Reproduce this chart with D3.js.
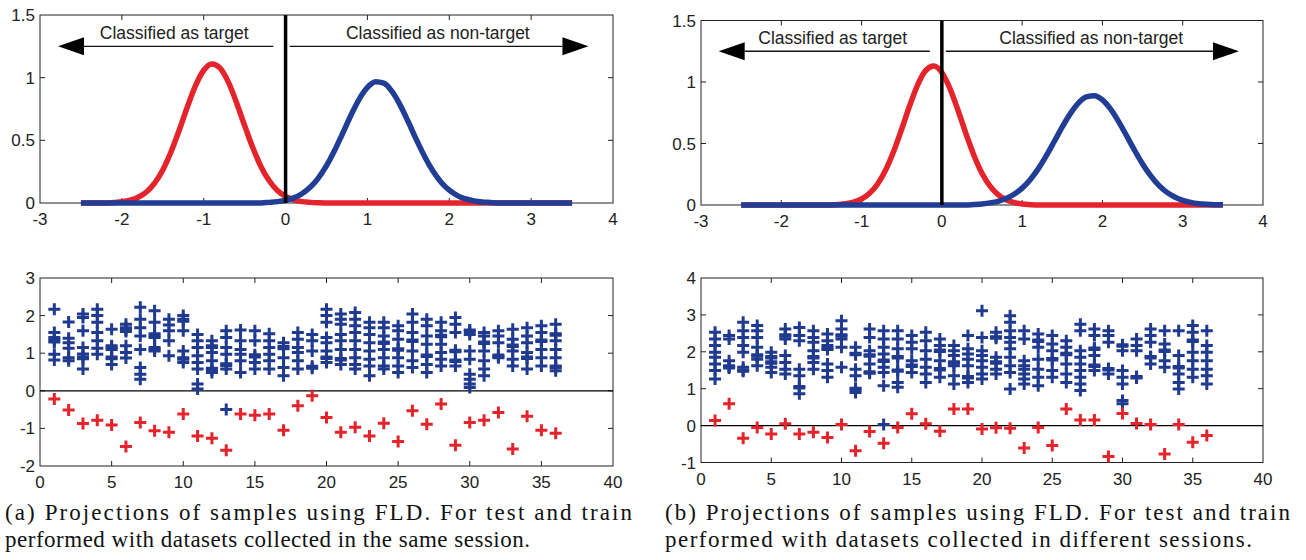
<!DOCTYPE html>
<html><head><meta charset="utf-8">
<script src="https://cdn.jsdelivr.net/npm/d3@7"></script>
<style>body{margin:0;background:#fff}svg{display:block}</style>
</head><body><svg id="c" width="1306" height="560"></svg>
<script>
// ---------- data ----------
const densityXTicks = [-3,-2,-1,0,1,2,3,4];
const densityYTicks = [0,0.5,1,1.5];
const scatterXTicks = [0,5,10,15,20,25,30,35,40];
const scatterYTicksA = [-2,-1,0,1,2,3];
const scatterYTicksB = [-1,0,1,2,3,4];
const arrowLabels = ["Classified as target","Classified as non-target"];

// density curves [x, y]
const redCurveA = [[-2.5,0],[-2.2,0],[-2.1,0.004],[-2.0,0.010],[-1.9,0.022],[-1.8,0.046],[-1.7,0.088],[-1.6,0.159],[-1.5,0.264],[-1.4,0.407],[-1.3,0.580],[-1.2,0.766],[-1.1,0.936],[-1.0,1.059],[-0.9,1.110],[-0.8,1.076],[-0.7,0.966],[-0.6,0.802],[-0.5,0.617],[-0.4,0.440],[-0.3,0.290],[-0.2,0.177],[-0.1,0.100],[0.0,0.052],[0.1,0.025],[0.2,0.011],[0.3,0.005],[0.4,0.002],[0.5,0],[3.5,0]];
const blueCurveA = [[-2.5,0],[-0.3,0],[-0.2,0.005],[-0.1,0.011],[0.0,0.022],[0.1,0.041],[0.2,0.074],[0.3,0.125],[0.4,0.199],[0.5,0.298],[0.6,0.421],[0.7,0.560],[0.8,0.702],[0.9,0.829],[1.0,0.922],[1.1,0.967],[1.2,0.956],[1.3,0.890],[1.4,0.781],[1.5,0.646],[1.6,0.503],[1.7,0.369],[1.8,0.255],[1.9,0.166],[2.0,0.102],[2.1,0.059],[2.2,0.032],[2.3,0.017],[2.4,0.008],[2.5,0.004],[2.6,0],[3.5,0]];
const redCurveB = [[-2.5,0],[-1.4,0],[-1.3,0.004],[-1.2,0.010],[-1.1,0.023],[-1.0,0.049],[-0.9,0.095],[-0.8,0.171],[-0.7,0.284],[-0.6,0.436],[-0.5,0.618],[-0.4,0.809],[-0.3,0.979],[-0.2,1.094],[-0.1,1.130],[0.0,1.077],[0.1,0.948],[0.2,0.772],[0.3,0.580],[0.4,0.403],[0.5,0.258],[0.6,0.153],[0.7,0.084],[0.8,0.042],[0.9,0.020],[1.0,0.008],[1.1,0.003],[1.2,0],[3.5,0]];
const blueCurveB = [[-2.5,0],[0.3,0],[0.4,0.004],[0.5,0.009],[0.6,0.017],[0.7,0.030],[0.8,0.053],[0.9,0.087],[1.0,0.137],[1.1,0.206],[1.2,0.294],[1.3,0.399],[1.4,0.516],[1.5,0.635],[1.6,0.743],[1.7,0.829],[1.8,0.879],[1.9,0.888],[2.0,0.854],[2.1,0.781],[2.2,0.680],[2.3,0.564],[2.4,0.445],[2.5,0.334],[2.6,0.239],[2.7,0.162],[2.8,0.105],[2.9,0.065],[3.0,0.038],[3.1,0.021],[3.2,0.011],[3.3,0.006],[3.4,0.003],[3.5,0.001]];

// scatter: per sample index 1..36, blue (non-target) projections and red (target) projection
const blueA = [
 [2.17,1.55,1.42,1.35,1.3,0.97,0.82],
 [1.83,1.4,1.28,1.13,0.88,0.8],
 [2.04,1.95,1.6,1.15,0.98,0.9,0.85,0.58],
 [2.17,2.0,1.82,1.55,1.33,1.13,0.97],
 [1.64,1.2,1.15,1.1,0.9,0.85,0.7],
 [1.77,1.68,1.62,1.58,1.2,1.02,0.87],
 [2.22,1.9,1.68,1.46,1.1,0.62,0.44,0.31],
 [2.13,1.82,1.52,1.46,1.42,1.15,1.1,1.06],
 [1.9,1.75,1.6,1.33,0.93],
 [2.0,1.9,1.85,1.6,1.06,0.88,0.84,0.75],
 [1.5,1.33,1.15,0.93,0.75,0.58,0.18,0.05],
 [1.33,1.2,1.15,1.02,0.8,0.6,0.55,0.49],
 [1.6,1.42,1.15,0.97,0.72,0.67,0.58,-0.5],
 [1.62,1.33,1.1,0.97,0.8,0.49],
 [1.6,1.33,0.96,0.9,0.75,0.58],
 [1.52,1.33,1.15,0.97,0.8,0.58],
 [1.28,1.18,1.12,0.88,0.62,0.4],
 [1.55,1.37,1.15,1.02,0.8,0.58],
 [1.5,1.33,1.06,0.65,0.6],
 [2.17,2.0,1.82,1.42,1.28,1.06,0.9,0.86,0.75],
 [2.04,1.9,1.77,1.5,1.33,1.1,0.86,0.82,0.7],
 [2.08,1.9,1.73,1.55,1.33,1.1,0.88,0.7,0.58],
 [1.82,1.68,1.5,1.28,1.06,0.84,0.66,0.4],
 [1.82,1.68,1.46,1.3,1.26,1.1,0.88,0.66,0.58],
 [1.73,1.6,1.37,1.12,1.08,0.88,0.66,0.49],
 [2.04,1.82,1.55,1.35,1.31,1.06,0.8,0.62],
 [1.9,1.73,1.46,1.24,0.95,0.91,0.7,0.49],
 [1.82,1.6,1.48,1.44,1.24,1.02,0.84,0.66],
 [1.95,1.77,1.55,1.08,1.04,0.82,0.78,0.66],
 [1.62,1.58,1.5,1.06,0.84,0.44,0.31,0.18,0.09],
 [1.55,1.46,1.3,1.26,1.06,0.8,0.58,0.4],
 [1.6,1.46,1.28,0.95,0.91,0.88],
 [1.64,1.37,1.22,1.18,1.06,0.84,0.66],
 [1.68,1.46,1.28,1.02,0.9,0.86,0.58],
 [1.73,1.55,1.35,1.31,1.1,0.88,0.66],
 [1.77,1.52,1.48,1.33,1.1,0.88,0.66,0.62,0.53]
];
const redA = [-0.22,-0.51,-0.87,-0.78,-0.91,-1.48,-0.84,-1.06,-1.1,-0.62,-1.2,-1.26,-1.58,-0.62,-0.65,-0.62,-1.05,-0.4,-0.13,-0.71,-1.1,-0.97,-1.2,-0.86,-1.35,-0.53,-0.89,-0.35,-1.45,-0.84,-0.78,-0.58,-1.55,-0.68,-1.05,-1.13];

const blueB = [
 [2.53,2.35,2.17,1.99,1.85,1.67,1.49,1.26],
 [2.44,2.35,1.76,1.62,1.6,1.56],
 [2.8,2.57,2.39,2.17,1.99,1.58,1.51,1.47],
 [2.71,2.57,2.39,2.12,1.92,1.88,1.8,1.62],
 [1.99,1.87,1.83,1.73,1.69,1.58,1.44],
 [2.62,2.46,2.42,2.35,1.9,1.71,1.53,1.4],
 [2.66,2.44,2.3,1.53,1.35,1.06,1.02,0.86],
 [2.57,2.39,2.26,2.03,1.87,1.83,1.71,1.53],
 [2.48,2.3,2.17,2.1,2.06,1.67,1.49,1.31],
 [2.84,2.62,2.46,2.42,2.35,2.12,1.58],
 [2.12,1.96,1.92,1.53,1.35,1.01,0.97,0.9],
 [2.62,2.39,2.03,1.92,1.88,1.67,1.46,1.42],
 [2.57,2.35,2.12,1.94,1.78,1.74,1.58,1.44,1.08,0.03],
 [2.57,2.35,2.08,1.87,1.83,1.51,1.47,1.17,1.04],
 [2.44,2.26,2.08,1.76,1.64,1.6,1.44],
 [2.53,2.3,2.03,1.8,1.58,1.4,1.17],
 [2.35,2.17,2.05,2.01,1.76,1.55,1.51,1.31],
 [2.17,2.03,1.9,1.73,1.69,1.62,1.35,1.13],
 [2.44,2.08,1.94,1.8,1.62,1.33,1.29,1.17],
 [3.11,2.39,2.03,1.9,1.76,1.58,1.4,1.26],
 [2.53,2.41,2.37,1.85,1.73,1.69,1.53,1.4],
 [2.98,2.8,2.57,2.39,2.26,2.08,1.85,1.62,1.44,0.99],
 [2.57,2.35,1.76,1.62,1.53,1.4,1.26,1.13],
 [2.48,2.32,2.28,2.12,1.8,1.53,1.31,1.08],
 [2.44,2.21,2.03,1.82,1.78,1.49,1.31],
 [2.3,2.12,1.96,1.92,1.67,1.4,1.17],
 [2.75,2.57,2.03,1.85,1.67,1.49,1.31,1.13,0.95],
 [2.62,2.44,2.1,2.06,1.9,1.64,1.6,1.49],
 [2.57,2.44,2.26,1.55,1.51,1.4],
 [2.19,2.15,2.03,1.49,1.31,1.13,0.68,0.59],
 [2.35,2.17,2.03,1.33,1.29],
 [2.62,2.44,2.26,1.87,1.83,1.67],
 [2.57,2.21,2.05,2.01,1.76,1.58],
 [2.57,1.9,1.6,1.56,1.4,1.17,0.99],
 [2.71,2.53,2.32,2.28,1.99,1.76,1.53,1.31],
 [2.57,2.17,1.99,1.76,1.53,1.35,1.13]
];
const redB = [0.14,0.59,-0.34,-0.05,-0.23,0.05,-0.23,-0.18,-0.32,0.03,-0.68,-0.16,-0.48,-0.05,0.32,0.05,-0.15,0.45,0.45,-0.09,-0.06,-0.07,-0.61,-0.05,-0.54,0.45,0.15,0.15,-0.84,0.33,0.06,0.03,-0.77,0.03,-0.45,-0.27];

const captionA = ["(a) Projections of samples using FLD. For test and train","performed with datasets collected in the same session."];
const captionB = ["(b) Projections of samples using FLD. For test and train","performed with datasets collected in different sessions."];

// ---------- drawing ----------
const svg = d3.select("#c");
const RED = "#e4232b", BLUE = "#213d95", MARK_BLUE = "#1f3a8f";
const tickFont = "'Liberation Sans', Arial, sans-serif";

function frame(g, x, y, xTicks, yTicks){
  const [x0,x1] = x.range(), [y0,y1] = y.range();
  const tl = 5;
  const ax = g.append("g").attr("stroke","#222").attr("stroke-width",1).attr("fill","none");
  xTicks.forEach(t=>{
    const px = x(t);
    if (px > x0+0.5 && px < x1-0.5){
      ax.append("line").attr("x1",px).attr("x2",px).attr("y1",y0).attr("y2",y0-tl);
      ax.append("line").attr("x1",px).attr("x2",px).attr("y1",y1).attr("y2",y1+tl);
    }
  });
  yTicks.forEach(t=>{
    const py = y(t);
    if (py < y0-0.5 && py > y1+0.5){
      ax.append("line").attr("x1",x0).attr("x2",x0+tl).attr("y1",py).attr("y2",py);
      ax.append("line").attr("x1",x1).attr("x2",x1-tl).attr("y1",py).attr("y2",py);
    }
  });
  ax.append("rect").attr("x",x0).attr("y",y1).attr("width",x1-x0).attr("height",y0-y1);
  const lab = g.append("g").attr("font-family",tickFont).attr("font-size",17).attr("fill","#222");
  xTicks.forEach(t=>{
    lab.append("text").attr("x",x(t)).attr("y",y0+22).attr("text-anchor","middle").text(String(t));
  });
  yTicks.forEach(t=>{
    lab.append("text").attr("x",x0-5).attr("y",y(t)+6).attr("text-anchor","end").text(String(t));
  });
}

function density(cfg){
  const g = svg.append("g");
  const x = d3.scaleLinear().domain([-3,4]).range(cfg.xr);
  const y = d3.scaleLinear().domain([0,1.5]).range(cfg.yr);
  frame(g, x, y, densityXTicks, densityYTicks);
  const line = d3.line().x(d=>x(d[0])).y(d=>y(d[1])).curve(d3.curveMonotoneX);
  g.append("path").datum(cfg.red).attr("d",line).attr("fill","none").attr("stroke",RED).attr("stroke-width",5.5).attr("stroke-linejoin","round");
  g.append("path").datum(cfg.blue).attr("d",line).attr("fill","none").attr("stroke",BLUE).attr("stroke-width",5.5).attr("stroke-linejoin","round");
  g.append("line").attr("x1",x(0)).attr("x2",x(0)).attr("y1",y(0)).attr("y2",y(1.5)).attr("stroke","#000").attr("stroke-width",3.5);
  const ay = y(1.25), ah = 26, aw = 9;
  g.append("line").attr("x1",x(-0.15)).attr("x2",x(-2.78)+ah).attr("y1",ay).attr("y2",ay).attr("stroke","#111").attr("stroke-width",1.3);
  g.append("path").attr("d",`M${x(-2.78)},${ay} L${x(-2.78)+ah},${ay-aw} L${x(-2.78)+ah},${ay+aw} Z`).attr("fill","#000");
  g.append("line").attr("x1",x(0.05)).attr("x2",x(3.7)-ah).attr("y1",ay).attr("y2",ay).attr("stroke","#111").attr("stroke-width",1.3);
  g.append("path").attr("d",`M${x(3.7)},${ay} L${x(3.7)-ah},${ay-aw} L${x(3.7)-ah},${ay+aw} Z`).attr("fill","#000");
  const t = g.append("g").attr("font-family",tickFont).attr("font-size",17.5).attr("fill","#222").attr("text-anchor","middle");
  t.append("text").attr("x",x(-1.36)).attr("y",y(1.31)).text(arrowLabels[0]);
  t.append("text").attr("x",x(1.86)).attr("y",y(1.31)).text(arrowLabels[1]);
}

function scatter(cfg){
  const g = svg.append("g");
  const x = d3.scaleLinear().domain([0,40]).range(cfg.xr);
  const y = d3.scaleLinear().domain(cfg.yd).range(cfg.yr);
  frame(g, x, y, scatterXTicks, cfg.yTicks);
  g.append("line").attr("x1",x(0)).attr("x2",x(40)).attr("y1",y(0)).attr("y2",y(0)).attr("stroke","#000").attr("stroke-width",1.2);
  const plus = "M-6,0H6M0,-6V6";
  const bluePts = cfg.blue.flatMap((vals,i)=>vals.map(v=>[i+1,v]));
  g.append("g").selectAll("path").data(bluePts).join("path")
    .attr("transform",d=>`translate(${x(d[0])},${y(d[1])})`).attr("d",plus)
    .attr("stroke",MARK_BLUE).attr("stroke-width",3).attr("fill","none");
  g.append("g").selectAll("path").data(cfg.red.map((v,i)=>[i+1,v])).join("path")
    .attr("transform",d=>`translate(${x(d[0])},${y(d[1])})`).attr("d",plus)
    .attr("stroke",RED).attr("stroke-width",3).attr("fill","none");
}

function caption(lines, x0, widths){
  const g = svg.append("g").attr("font-family","'Liberation Serif', 'Times New Roman', serif").attr("font-size",23).attr("fill","#111");
  lines.forEach((s,i)=>{
    g.append("text").attr("x",x0).attr("y",520+27*i).attr("textLength",widths[i]).attr("lengthAdjust","spacing").text(s);
  });
}

density({xr:[40,613], yr:[203,15], red:redCurveA, blue:blueCurveA});
density({xr:[701,1263], yr:[205,20.5], red:redCurveB, blue:blueCurveB});
scatter({xr:[40,613], yr:[466,278], yd:[-2,3], yTicks:scatterYTicksA, blue:blueA, red:redA});
scatter({xr:[701,1263], yr:[462.5,278], yd:[-1,4], yTicks:scatterYTicksB, blue:blueB, red:redB});
caption(captionA, 5, [627,525]);
caption(captionB, 665, [625,587]);
</script></body></html>
